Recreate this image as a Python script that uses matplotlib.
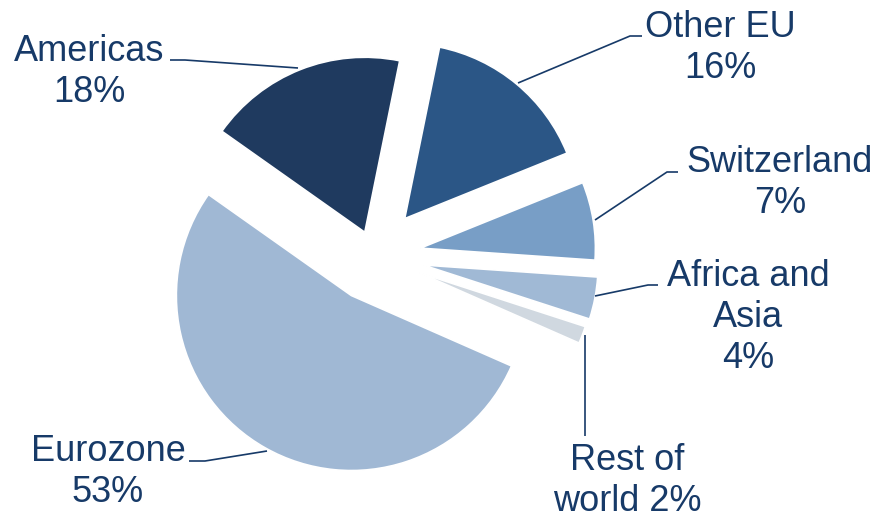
import matplotlib
matplotlib.use("Agg")
import matplotlib.pyplot as plt

# region shares (approximate) and labels
regions = ["Other EU", "Switzerland", "Africa and\nAsia", "Rest of\nworld", "Eurozone", "Americas"]
shares = [15.7, 7.2, 3.9, 1.6, 53.2, 18.4]
colors = ["#2B5686", "#789EC6", "#A0B9D5", "#D0D8E0", "#A0B8D4", "#1F3A5F"]
explode_px = [48, 47, 50, 48, 46, 25]

W, H = 881, 519
TXT = "#173A68"
R = 175
CX, CY = 374, 255.5  # pixel coords, y from top

fig = plt.figure(figsize=(W / 100, H / 100), dpi=100)
ax = fig.add_axes([0, 0, 1, 1])
ax.axis("off")

# explode in matplotlib is in data units, here pixels
wedges, _ = ax.pie(shares, colors=colors, startangle=78.5, counterclock=False,
                   radius=R, center=(CX, H - CY), explode=explode_px,
                   wedgeprops=dict(edgecolor="white", linewidth=1.2))
ax.set_xlim(0, W)
ax.set_ylim(0, H)
ax.set_aspect("equal")

def label_text(name, share):
    pct = f"{round(share)}%"
    if name.startswith("Rest"):
        return f"{name} {pct}"
    return f"{name}\n{pct}"

# label placement: (center x, first baseline y) in pixels from top
label_pos = [(720, 37), (780, 172), (748, 286), (627, 470), (108, 461), (89, 61)]
leaders = [
    [(518, 83), (630, 36), (642, 36)],
    [(595, 220), (667, 172), (678, 172)],
    [(595, 296), (648, 285), (658, 285)],
    [(585, 335), (585, 436)],
    [(189, 461), (205, 461), (267, 451)],
    [(170, 60), (185, 60), (298, 68)],
]

for name, share, (x, y0), pts in zip(regions, shares, label_pos, leaders):
    for i, line in enumerate(label_text(name, share).split("\n")):
        ax.text(x, H - (y0 + 41 * i), line, ha="center", va="baseline",
                fontsize=26, color=TXT, family=["Liberation Sans", "DejaVu Sans"])
    ax.plot([p[0] for p in pts], [H - p[1] for p in pts], color=TXT, lw=1.2,
            solid_capstyle="butt")

fig.savefig("out.png", dpi=100)
